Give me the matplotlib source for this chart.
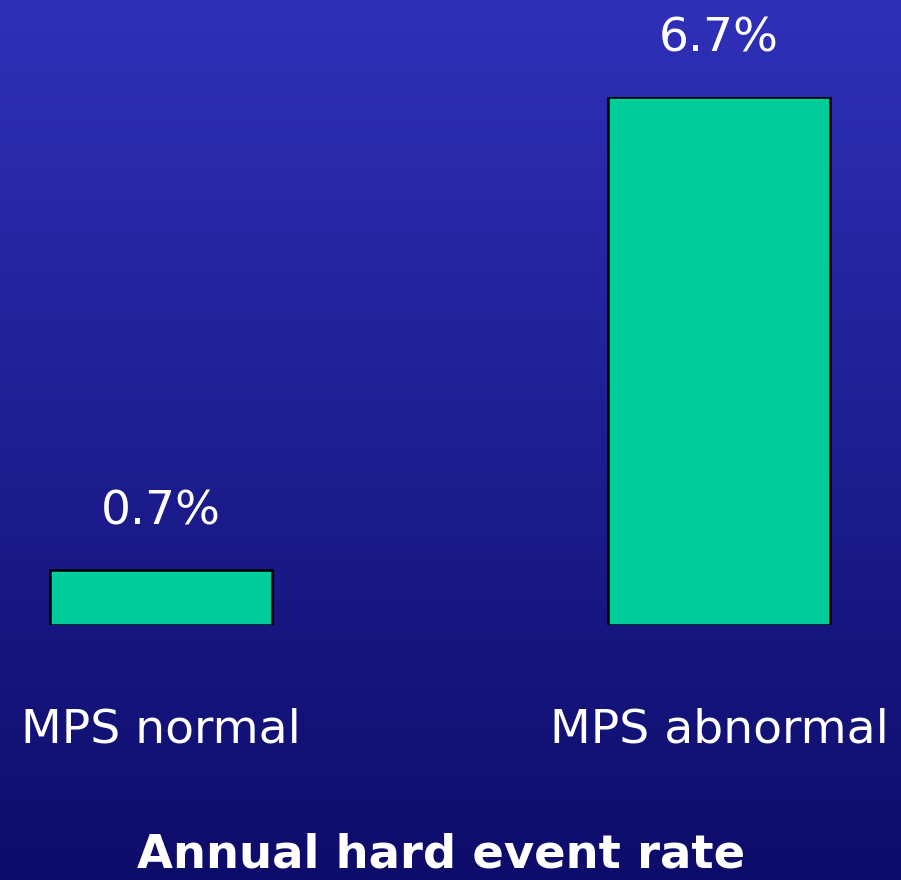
import numpy as np
import matplotlib
matplotlib.use("Agg")
import matplotlib.pyplot as plt
from matplotlib.colors import LinearSegmentedColormap

categories = ["MPS normal", "MPS abnormal"]
rates = [0.7, 6.7]
value_labels = ["0.7%", "6.7%"]
title = "Annual hard event rate"

W, H = 901, 880
fig = plt.figure(figsize=(W / 100, H / 100), dpi=100)

# fond en dégradé bleu
bg = fig.add_axes([0, 0, 1, 1], zorder=0)
grad = LinearSegmentedColormap.from_list("bg", ["#3030b9", "#0d0c6a"])
bg.imshow(np.linspace(0, 1, 256).reshape(-1, 1), cmap=grad, aspect="auto",
          extent=[0, 1, 0, 1])
bg.axis("off")

# axes des barres : base à y=625 px, sommet 6.7 à y=97 px
ax = fig.add_axes([0, 255 / H, 1, 528 / H], zorder=1)
ax.patch.set_alpha(0)
x = np.arange(len(categories))
ax.bar(x, rates, width=222 / 558, color="#00cc99", edgecolor="black",
       linewidth=1.8)
ax.set_xlim(-161 / 558, 1 + (W - 719) / 558)
ax.set_ylim(0, 6.7)
ax.axis("off")

font = "DejaVu Sans"
for xi, r, lab in zip(x, rates, value_labels):
    ax.annotate(lab, (xi, r), xytext=(0, 58), textcoords="offset pixels",
                ha="center", va="center", color="white", fontsize=34,
                family=font)
for xi, c in zip(x, categories):
    ax.annotate(c, (xi, 0), xytext=(0, -105), textcoords="offset pixels",
                ha="center", va="center", color="white", fontsize=34,
                family=font)

fig.text(441 / W, 1 - 855 / H, title, ha="center", va="center",
         color="white", fontsize=33.5, fontweight="bold", family=font)

fig.savefig("out.png", dpi=100)
